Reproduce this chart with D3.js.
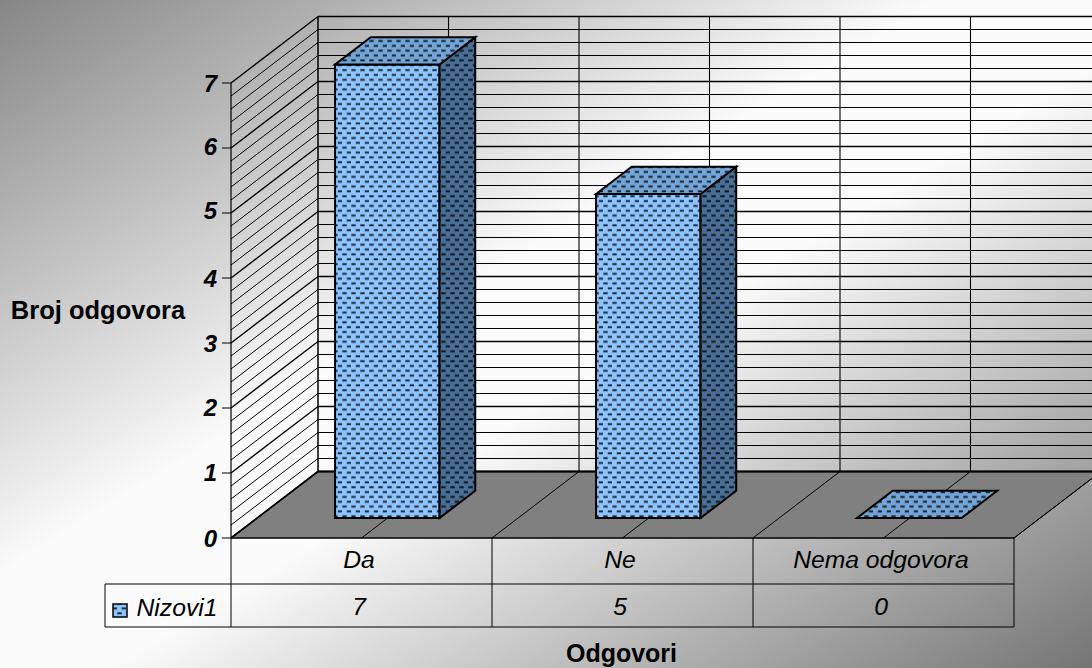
<!DOCTYPE html>
<html><head><meta charset="utf-8">
<script src="https://cdn.jsdelivr.net/npm/d3@7/dist/d3.min.js"></script>
<style>html,body{margin:0;padding:0;overflow:hidden}svg{display:block}text{font-family:"Liberation Sans",Arial,sans-serif}</style>
</head><body><div id="c"></div>
<script>
const categories = ["Da", "Ne", "Nema odgovora"];
const values = [7, 5, 0];
const seriesName = "Nizovi1";
const yTicks = [0, 1, 2, 3, 4, 5, 6, 7];
const yMinor = d3.range(0, 36).map(i => i / 5);
const yTitle = "Broj odgovora";
const xTitle = "Odgovori";

const W = 1092, H = 668;
const svg = d3.select("#c").append("svg").attr("width", W).attr("height", H);
const defs = svg.append("defs");
const bg = defs.append("linearGradient").attr("id", "bg").attr("x1", 0).attr("y1", 0).attr("x2", 1).attr("y2", 1);
[[0, "#868686"], [0.43, "#fbfbfb"], [0.55, "#fbfbfb"], [1, "#757575"]].forEach(s => bg.append("stop").attr("offset", s[0]).attr("stop-color", s[1]));
function pat(id, fill, dot, halo) {
  const p = defs.append("pattern").attr("id", id).attr("patternUnits", "userSpaceOnUse").attr("width", 9).attr("height", 9.7);
  p.append("rect").attr("width", 9).attr("height", 9.7).attr("fill", fill);
  [[0.5, 1.4], [5, 6.25]].forEach(o => {
    p.append("rect").attr("x", o[0] - 0.6).attr("y", o[1] - 0.6).attr("width", 5.2).attr("height", 2.8).attr("fill", halo);
    p.append("rect").attr("x", o[0]).attr("y", o[1]).attr("width", 4).attr("height", 1.6).attr("fill", dot);
  });
}
pat("pFront", "#8fc5ff", "#14283c", "#6d97c2");
pat("pTop", "#75a4d6", "#10202f", "#5a80a8");
pat("pSide", "#4a6f96", "#0c1722", "#344f6c");

svg.append("rect").attr("width", W).attr("height", H).attr("fill", "url(#bg)");

// scales: front plane and depth offset
const y = d3.scaleLinear().domain([0, 7]).range([538, 83]);
const yBar = d3.scaleLinear().domain([0, 7]).range([538, 84.4]);
const x = d3.scaleBand().domain(categories).range([231, 1014]);
const depth = d3.scaleLinear().domain([0, 1]).range([0, 87]);
const depthY = d3.scaleLinear().domain([0, 1]).range([0, -66.5]);
const P = (px, v, d) => [px + depth(d), y(v) + depthY(d)];
const B = (px, v, d) => [px + depth(d), yBar(v) + depthY(d)];
const line = d3.line();
const ink = "#000";
const g = svg.append("g");
const seg = (a, b, w) => g.append("path").attr("d", line([a, b])).attr("stroke", ink).attr("stroke-width", w).attr("fill", "none");

// floor
const xL = x.range()[0], xR = x.range()[1];
g.append("path").attr("d", line([P(xL, 0, 0), P(xR, 0, 0), P(xR, 0, 1), P(xL, 0, 1)]) + "Z").attr("fill", "#808080");

// wall gridlines
yMinor.forEach(v => {
  const major = Number.isInteger(v);
  seg(P(xL, v, 0), P(xL, v, 1), major ? 1.3 : 1);
  seg(P(xL, v, 1), P(xR, v, 1), major ? 1.5 : 1.2);
});
// wall verticals and floor lines
const half = x.step() / 2;
d3.range(0, 7).forEach(i => {
  const px = xL + i * half;
  if (i) seg(P(px, 0, 0), P(px, 0, 1), 1);
  seg(P(px, 0, 1), P(px, d3.max(yTicks), 1), i ? 1.1 : 1.5);
});
seg(P(xL, 0, 1), P(xR, 0, 1), 1.8);
seg(P(xL, 0, 0), P(xL, 0, 1), 1.6);
seg(P(xR, 0, 0), P(xR, 0, 1), 1);

// bars
const barDepth = [0.3, 0.71];
const barW = 104.5;
categories.forEach((c, i) => {
  const v = values[i];
  const x0 = x(c) + (x.step() - barW) / 2 - 0.3, x1 = x0 + barW;
  const bar = g.append("g").attr("stroke", ink).attr("stroke-width", 2).attr("stroke-linejoin", "miter");
  const d0 = barDepth[0], d1 = barDepth[1];
  const poly = (pts, fill) => bar.append("path").attr("d", line(pts) + "Z").attr("fill", `url(#${fill})`);
  if (v > 0) {
    poly([B(x0, 0, d0), B(x1, 0, d0), B(x1, v, d0), B(x0, v, d0)], "pFront");
    poly([B(x1, 0, d0), B(x1, 0, d1), B(x1, v, d1), B(x1, v, d0)], "pSide");
  }
  poly([B(x0, v, d0), B(x1, v, d0), B(x1, v, d1), B(x0, v, d1)], "pTop");
});

// y axis
seg([xL, y(0)], [xL, y(d3.max(yTicks))], 1.2);
g.selectAll(".yt").data(yTicks).join("path").attr("d", v => line([[xL - 9, y(v)], [xL, y(v)]])).attr("stroke", ink).attr("stroke-width", 1);
const labelOffset = {0: 0, 1: -1, 2: -1, 3: 0, 4: 0, 5: -3, 6: -2, 7: 0};
g.selectAll(".yl").data(yTicks).join("text")
  .attr("x", 217).attr("y", v => y(v) + 8.5 + labelOffset[v]).attr("text-anchor", "end")
  .attr("font-size", 24).attr("font-weight", "bold").attr("font-style", "italic").attr("fill", "#000").text(v => v);

// data table
const t0 = 538, t1 = 584, t2 = 627, tL = 105;
g.append("path").attr("d", line([[xL, t0], [xR, t0]])).attr("stroke", ink).attr("stroke-width", 1.6);
seg([tL, t1], [xR, t1], 1);
seg([tL, t2], [xR, t2], 1.2);
seg([tL, t1], [tL, t2], 1);
seg([xL, t0], [xL, t2], 1);
seg([xR, t0], [xR, t2], 1);
categories.forEach((c, i) => {
  if (i) seg([x(c), t0], [x(c), t2], 1);
  const cx = x(c) + x.step() / 2;
  g.append("text").attr("x", cx - 2.5).attr("y", 568).attr("text-anchor", "middle").attr("font-size", 24.7).attr("font-style", "italic").text(c);
  g.append("text").attr("x", cx - 2.5).attr("y", 615).attr("text-anchor", "middle").attr("font-size", 24.7).attr("font-style", "italic").text(values[i]);
});
g.append("rect").attr("x", 113).attr("y", 604).attr("width", 14).attr("height", 13).attr("fill", "url(#pFront)").attr("stroke", "#111").attr("stroke-width", 1.6);
g.append("text").attr("x", 136.5).attr("y", 616).attr("font-size", 24.7).attr("font-style", "italic").text(seriesName);

// titles
g.append("text").attr("x", 98).attr("y", 319).attr("text-anchor", "middle").attr("font-size", 25.5).attr("font-weight", "bold").text(yTitle);
g.append("text").attr("x", 621.5).attr("y", 662).attr("text-anchor", "middle").attr("font-size", 25).attr("font-weight", "bold").text(xTitle);
</script></body></html>
